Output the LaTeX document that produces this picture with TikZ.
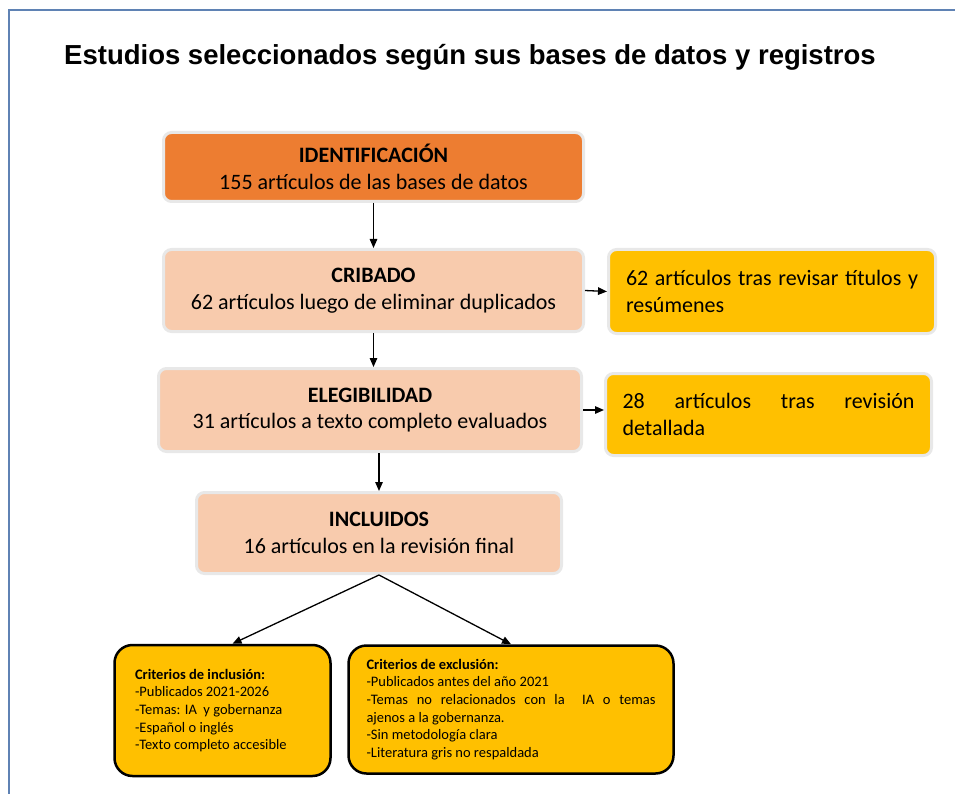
\documentclass[tikz,border=0pt]{standalone}
\usepackage{fontspec}
\setmainfont{Carlito}
\newfontfamily\titlefont{Liberation Sans}
\usetikzlibrary{arrows.meta, positioning}
\definecolor{idcolor}{RGB}{237,125,49}
\definecolor{stagelight}{RGB}{248,203,173}
\definecolor{goldcolor}{RGB}{255,192,0}
\definecolor{framecolor}{RGB}{95,130,180}
\definecolor{rimcolor}{RGB}{232,232,232}
\hyphenpenalty=10000
\exhyphenpenalty=10000
\tikzset{
  stage/.style = {draw=rimcolor, line width=3pt, rounded corners=8pt, fill=stagelight,
                  align=center, font=\fontsize{22}{26.5}\selectfont, inner sep=0pt},
  side/.style  = {draw=rimcolor, line width=3pt, rounded corners=8pt, fill=goldcolor,
                  text width=292pt, align=justify, font=\fontsize{22}{26.5}\selectfont, inner sep=0pt},
  crit/.style  = {draw=black, line width=2.5pt, rounded corners=18pt, fill=goldcolor,
                  font=\fontsize{14.5}{17.7}\selectfont, inner sep=0pt},
  arrow/.style = {-{Triangle[length=9pt, width=7.5pt]}, line width=1.3pt, black},
}

\begin{document}
\begin{tikzpicture}[x=1pt, y=-1pt]
  \useasboundingbox (0,0) rectangle (955,794);
  % frame
  \draw[framecolor, line width=1.5pt] (9,794) -- (9,10) -- (955,10);
  \node[anchor=base, font=\titlefont\bfseries\fontsize{27.5}{33}\selectfont] (title) at (470,65)
    {Estudios seleccionados según sus bases de datos y registros};

  % stages
  \node[stage, fill=idcolor, minimum width=420pt, minimum height=69pt] (ident) at (373.5,167)
    {\textbf{IDENTIFICACIÓN}\\155 artículos de las bases de datos};
  \node[stage, minimum width=420pt, minimum height=82pt] (crib) at (373.5,290.5)
    {\textbf{CRIBADO}\\62 artículos luego de eliminar duplicados};
  \node[stage, minimum width=423pt, minimum height=83pt] (elig) at (370,410)
    {\textbf{ELEGIBILIDAD}\\31 artículos a texto completo evaluados};
  \node[stage, minimum width=365pt, minimum height=81pt] (incl) at (379,533)
    {\textbf{INCLUIDOS}\\16 artículos en la revisión final};

  % side results
  \node[side, minimum width=327pt, minimum height=84pt] (titres) at (772,291.5)
    {62 artículos tras revisar títulos y\linebreak resúmenes};
  \node[side, minimum width=326pt, minimum height=82pt] (detrev) at (768.5,414.5)
    {28 artículos tras revisión\linebreak detallada};

  % criteria
  \node[crit, text width=175pt, align=flush left, minimum width=216pt, minimum height=131pt] (incrit) at (222.5,710.5)
    {\textbf{Criterios de inclusión:}\\-Publicados 2021-2026\\-Temas: IA\ \ y gobernanza\\-Español o inglés\\-Texto completo accesible};
  \node[crit, text width=289pt, align=justify, minimum width=325pt, minimum height=128pt] (excrit) at (511,709.5)
    {\textbf{Criterios de exclusión:}\\-Publicados antes del año 2021\\-Temas no relacionados con la\ \ IA o temas\linebreak ajenos a la gobernanza.\\-Sin metodología clara\\-Literatura gris no respaldada};

  % connectors
  \draw[arrow] (ident.south) -- (crib.north);
  \draw[arrow] (crib.south) -- (crib.south |- elig.north);
  \draw[arrow] (incl.north |- elig.south) -- (incl.north);
  \draw[arrow] (crib.east) -- (titres.west);
  \draw[arrow] (elig.east) -- (elig.east -| detrev.west);
  \draw[arrow] (incl.south) -- ([xshift=10pt]incrit.north);
  \draw[arrow] (incl.south) -- (excrit.north);
\end{tikzpicture}
\end{document}
